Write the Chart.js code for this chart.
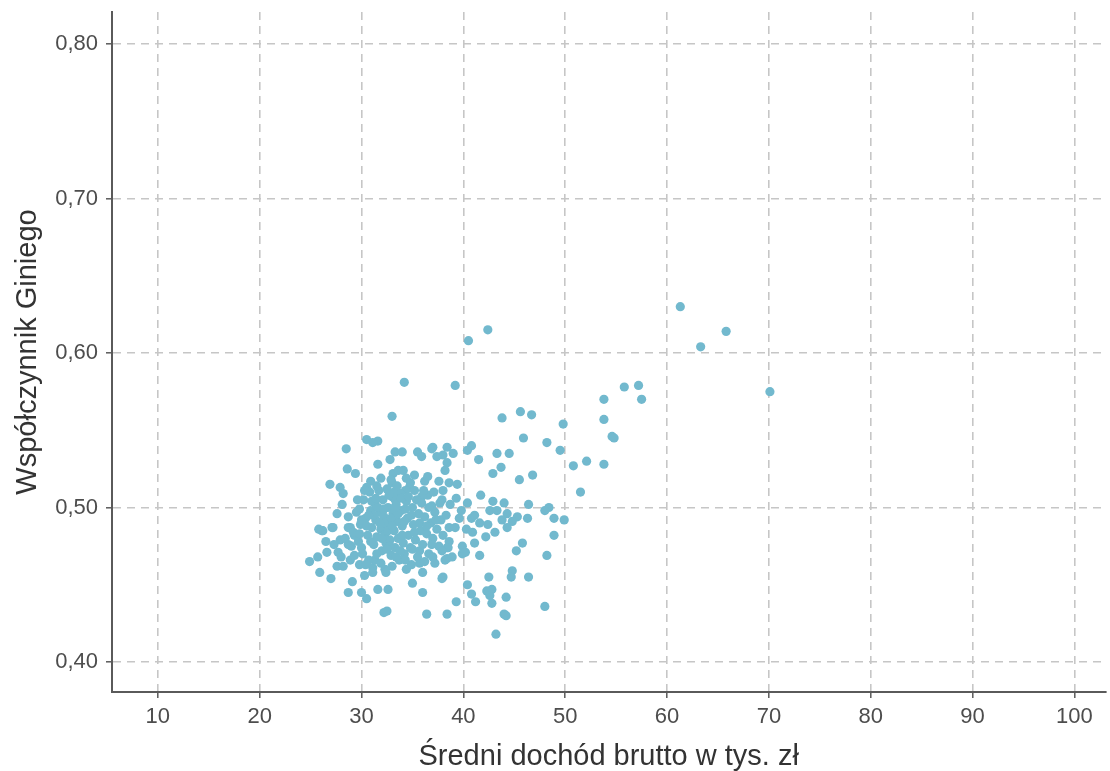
<!DOCTYPE html>
<html>
<head>
<meta charset="utf-8">
<script src="https://cdn.jsdelivr.net/npm/chart.js@4"></script>
<style>
  html, body { margin: 0; padding: 0; background: #fff; }
</style>
</head>
<body>
<canvas id="myChart" width="1110" height="771"></canvas>
<script>
// Sredni dochod brutto (tys. zl) vs wspolczynnik Giniego, one point per powiat
var income = [
  61.3, 65.8, 63.3, 70.1, 42.4, 40.5, 34.2, 39.2, 57.2, 55.8,
  57.5, 53.8, 53.8, 54.6, 54.8, 53.8, 49.8, 49.5, 50.8, 52.1,
  51.5, 43.8, 45.6, 46.7, 45.9, 48.2, 38.4, 40.8, 40.4, 38.0,
  39.0, 43.3, 44.5, 41.5, 38.4, 38.2, 42.9, 43.7, 45.5, 46.8,
  38.6, 39.4, 39.3, 42.9, 44.0, 46.4, 48.4, 48.0, 42.6, 43.3,
  44.3, 45.3, 48.9, 49.9, 46.3, 39.6, 40.8, 41.6, 42.4, 43.8,
  44.8, 40.3, 39.2, 44.3, 48.9, 45.8, 45.2, 41.1, 39.9, 39.9,
  41.6, 38.6, 38.4, 38.4, 48.2, 38.0, 42.5, 44.8, 44.7, 46.4,
  40.4, 42.3, 42.8, 40.8, 41.2, 42.6, 42.8, 44.2, 39.3, 48.0,
  38.4, 44.0, 44.2, 43.2, 33.0, 30.5, 31.6, 31.1, 28.5, 33.3,
  35.5, 35.9, 37.0, 37.4, 32.8, 31.6, 28.6, 29.4, 33.1, 34.1,
  33.0, 36.2, 26.9, 27.9, 28.2, 30.5, 28.1, 27.6, 28.7, 29.8,
  26.2, 27.1, 28.9, 24.9, 25.7, 25.9, 27.0, 27.6, 28.7, 29.1,
  30.0, 30.5, 31.6, 32.6, 32.2, 32.5, 35.0, 36.0, 36.4, 37.9,
  31.1, 34.4, 35.7, 37.2, 38.2, 34.0, 36.9, 33.6, 34.7, 35.2,
  34.3, 36.5, 35.9, 37.9, 38.7, 41.1, 35.9, 36.9, 33.3, 35.7,
  38.5, 38.9, 40.2, 26.1, 27.2, 28.7, 26.6, 27.7, 28.7, 27.9,
  29.3, 30.0, 31.3, 32.3, 30.3, 29.8, 28.9, 28.2, 29.5, 29.9,
  30.2, 30.4, 30.6, 30.8, 30.9, 31.0, 31.2, 31.3, 31.4, 31.5,
  31.7, 31.8, 31.9, 32.0, 32.1, 32.2, 32.3, 32.4, 32.5, 32.6,
  32.7, 32.8, 32.9, 33.0, 33.1, 33.2, 33.3, 33.4, 33.5, 33.6,
  33.7, 33.8, 33.9, 34.0, 34.1, 34.2, 34.4, 34.5, 34.6, 34.8,
  35.0, 35.1, 35.3, 35.5, 35.6, 35.8, 36.0, 36.2, 36.4, 36.6,
  36.8, 37.0, 37.2, 37.4, 37.6, 37.8, 38.0, 29.7, 30.1, 30.7,
  31.1, 31.9, 32.4, 33.0, 29.2, 29.0, 28.4, 28.0, 27.3, 26.5,
  25.8, 31.6, 32.3, 32.9, 33.6, 31.2, 32.0, 30.5, 34.3, 33.2,
  32.6, 31.0, 30.0, 35.4, 36.6, 37.7, 36.1, 34.8, 33.5, 31.5,
  30.3, 29.6, 37.1, 38.0, 32.8, 34.0, 35.2, 36.9, 37.9, 34.9,
  36.2, 33.4, 31.4, 32.7, 33.9, 34.6, 32.2, 33.3, 34.9, 31.8,
  33.0, 34.2, 35.7, 30.7, 29.8, 30.9, 32.5, 33.8, 35.0, 36.4,
  37.3, 38.3, 38.6, 37.6, 36.5, 35.2, 34.4, 32.9, 31.9, 30.9,
  39.8, 40.4, 41.7, 40.9, 42.2, 43.1, 29.3, 31.5, 30.4, 34.3,
  37.0, 36.0
];
var gini = [
  0.630, 0.614, 0.604, 0.575, 0.615, 0.608, 0.581, 0.579, 0.579, 0.578,
  0.570, 0.570, 0.557, 0.546, 0.545, 0.528, 0.554, 0.537, 0.527, 0.530,
  0.510, 0.558, 0.562, 0.560, 0.545, 0.542, 0.539, 0.540, 0.537, 0.534,
  0.535, 0.535, 0.535, 0.531, 0.529, 0.524, 0.522, 0.526, 0.518, 0.521,
  0.516, 0.515, 0.506, 0.504, 0.503, 0.502, 0.500, 0.498, 0.498, 0.498,
  0.496, 0.494, 0.493, 0.492, 0.493, 0.493, 0.493, 0.490, 0.489, 0.492,
  0.491, 0.486, 0.487, 0.487, 0.482, 0.477, 0.472, 0.477, 0.475, 0.470,
  0.469, 0.478, 0.474, 0.467, 0.469, 0.455, 0.455, 0.459, 0.455, 0.455,
  0.450, 0.446, 0.447, 0.444, 0.439, 0.443, 0.438, 0.442, 0.439, 0.436,
  0.431, 0.431, 0.430, 0.418, 0.559, 0.544, 0.543, 0.542, 0.538, 0.536,
  0.536, 0.533, 0.539, 0.533, 0.531, 0.528, 0.525, 0.522, 0.522, 0.524,
  0.516, 0.517, 0.515, 0.513, 0.509, 0.513, 0.502, 0.496, 0.494, 0.499,
  0.485, 0.487, 0.487, 0.465, 0.468, 0.458, 0.454, 0.462, 0.445, 0.452,
  0.445, 0.441, 0.447, 0.447, 0.432, 0.433, 0.451, 0.445, 0.431, 0.454,
  0.461, 0.460, 0.464, 0.464, 0.466, 0.536, 0.538, 0.524, 0.513, 0.511,
  0.511, 0.508, 0.507, 0.505, 0.502, 0.495, 0.503, 0.501, 0.505, 0.472,
  0.474, 0.468, 0.471, 0.485, 0.487, 0.487, 0.471, 0.471, 0.476, 0.479,
  0.482, 0.474, 0.466, 0.460, 0.456, 0.463, 0.466, 0.462, 0.497, 0.489,
  0.505, 0.493, 0.482, 0.510, 0.498, 0.487, 0.476, 0.503, 0.492, 0.481,
  0.511, 0.497, 0.486, 0.472, 0.505, 0.494, 0.483, 0.477, 0.512, 0.500,
  0.489, 0.479, 0.469, 0.507, 0.496, 0.485, 0.474, 0.502, 0.491, 0.480,
  0.466, 0.509, 0.498, 0.488, 0.477, 0.470, 0.504, 0.493, 0.482, 0.474,
  0.500, 0.489, 0.479, 0.468, 0.496, 0.485, 0.476, 0.494, 0.483, 0.470,
  0.490, 0.480, 0.497, 0.486, 0.475, 0.492, 0.482, 0.478, 0.470, 0.466,
  0.458, 0.464, 0.458, 0.462, 0.484, 0.475, 0.480, 0.468, 0.476, 0.478,
  0.486, 0.500, 0.490, 0.493, 0.496, 0.495, 0.480, 0.488, 0.499, 0.510,
  0.485, 0.504, 0.492, 0.505, 0.500, 0.503, 0.511, 0.516, 0.514, 0.514,
  0.511, 0.505, 0.510, 0.511, 0.475, 0.482, 0.484, 0.476, 0.472, 0.463,
  0.465, 0.468, 0.506, 0.508, 0.506, 0.507, 0.499, 0.500, 0.495, 0.490,
  0.488, 0.491, 0.490, 0.495, 0.483, 0.478, 0.473, 0.472, 0.473, 0.488,
  0.492, 0.495, 0.487, 0.517, 0.520, 0.521, 0.519, 0.518, 0.519, 0.517,
  0.498, 0.503, 0.508, 0.484, 0.481, 0.484, 0.469, 0.470, 0.463, 0.466,
  0.468, 0.458
];

var xTicks = [10, 20, 30, 40, 50, 60, 70, 80, 90, 100];
var yTicks = [0.40, 0.50, 0.60, 0.70, 0.80];

var points = income.map(function (v, i) { return { x: v, y: gini[i] }; });

var gridColor = '#c6c6c6';
var axisColor = '#5a5a5a';
var tickFont = { family: 'Liberation Sans, Arial, sans-serif', size: 22 };
var titleFont = { family: 'Liberation Sans, Arial, sans-serif', size: 29, lineHeight: 1.0 };

var ctx = document.getElementById('myChart').getContext('2d');
var myChart = new Chart(ctx, {
  type: 'scatter',
  data: {
    datasets: [{
      data: points,
      backgroundColor: '#72b9ce',
      borderWidth: 0,
      pointRadius: 4.6,
      pointHoverRadius: 4.6
    }]
  },
  options: {
    responsive: false,
    animation: false,
    layout: { padding: { top: 12, right: 0, bottom: 0, left: 0 } },
    plugins: { legend: { display: false }, tooltip: { enabled: false } },
    scales: {
      x: {
        type: 'linear',
        min: 5.5,
        max: 103.04,
        afterBuildTicks: function (s) { s.ticks = xTicks.map(function (v) { return { value: v }; }); },
        afterFit: function (s) { s.height = 79; s.paddingLeft = 0; s.paddingRight = 0; },
        border: { color: axisColor, width: 2, dash: [8, 6] },
        grid: {
          color: gridColor, lineWidth: 1.6,
          tickColor: axisColor, tickLength: 6, tickWidth: 1.5, tickBorderDash: []
        },
        ticks: {
          color: '#4d4d4d', font: tickFont, padding: 6,
          callback: function (v) { return String(v); }
        },
        title: {
          display: true, text: 'Średni dochód brutto w tys. zł', color: '#333',
          font: titleFont, padding: { top: 0, bottom: 0 }
        }
      },
      y: {
        type: 'linear',
        min: 0.3806,
        max: 0.8207,
        afterBuildTicks: function (s) { s.ticks = yTicks.map(function (v) { return { value: v }; }); },
        afterFit: function (s) { s.width = 112; s.paddingTop = 0; s.paddingBottom = 0; },
        border: { color: axisColor, width: 2, dash: [8, 6] },
        grid: {
          color: gridColor, lineWidth: 1.6,
          tickColor: axisColor, tickLength: 6, tickWidth: 1.5, tickBorderDash: []
        },
        ticks: {
          color: '#4d4d4d', font: tickFont, padding: 8,
          callback: function (v) { return v.toFixed(2).replace('.', ','); }
        },
        title: {
          display: true, text: 'Współczynnik Giniego', color: '#333',
          font: titleFont, padding: { top: 13, bottom: 0 }
        }
      }
    }
  }
});
</script>
</body>
</html>
